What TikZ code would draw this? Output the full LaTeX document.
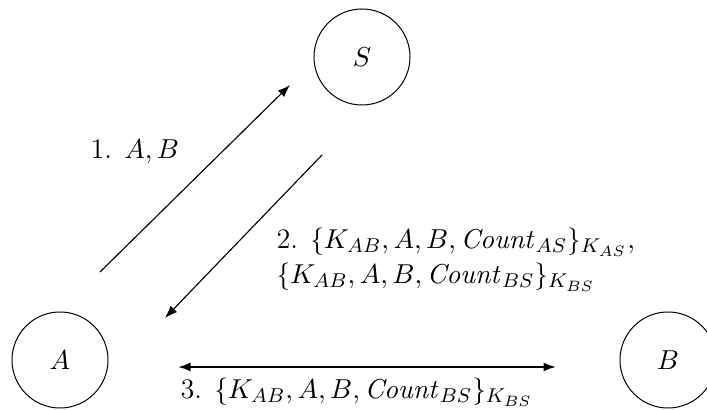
\documentclass[tikz,border=0pt]{standalone}
\usetikzlibrary{arrows.meta}
\begin{document}
\begin{tikzpicture}[x=0.4pt,y=-0.4pt,
  party/.style={draw,circle,minimum size=38.4pt,inner sep=0pt,line width=0.4pt,font=\fontsize{11.3}{13}\selectfont},
  msg/.style={line width=0.45pt,-{Latex[length=5pt,width=3.6pt]}},
  lbl/.style={font=\fontsize{11.3}{13}\selectfont,inner sep=0pt}]
\useasboundingbox (0,0) rectangle (707,410);
\node[party] (S) at (362,57) {$S$};
\node[party] (A) at (60,360) {$A$};
\node[party] (B) at (668,360) {$B$};
\coordinate (m1s) at (100,272);
\coordinate (m1e) at (290,85);
\coordinate (m2s) at (322,155);
\coordinate (m2e) at (165,318);
\coordinate (m3s) at (178,367);
\coordinate (m3e) at (556,367);
\draw[msg] (m1s) -- (m1e);
\draw[msg] (m2s) -- (m2e);
\draw[line width=0.8pt,{Latex[length=5pt,width=3.6pt]}-{Latex[length=5pt,width=3.6pt]}] (m3s) -- (m3e);
\node[lbl,anchor=west] (l1) at (90,152) {1. $A,B$};
\node[lbl,anchor=west] (l2a) at (276,242) {2. $\{K_{AB},A,B,\mathit{Count}_{AS}\}_{K_{AS}},$};
\node[lbl,anchor=west] (l2b) at (276,277) {$\{K_{AB},A,B,\mathit{Count}_{BS}\}_{K_{BS}}$};
\node[lbl,anchor=west] (l3) at (180,392) {3. $\{K_{AB},A,B,\mathit{Count}_{BS}\}_{K_{BS}}$};
\end{tikzpicture}
\end{document}
